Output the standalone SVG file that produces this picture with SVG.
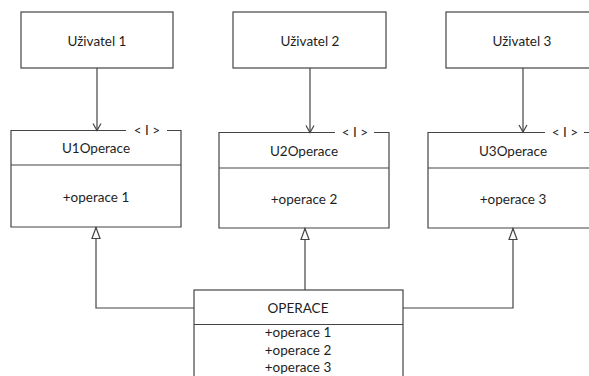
<svg xmlns="http://www.w3.org/2000/svg" width="589" height="376" viewBox="0 0 589 376">
<defs>
<style>
.box{fill:#fff;stroke:#444;stroke-width:1.2}
.ln{fill:none;stroke:#444;stroke-width:1.2}
text{font-family:Lato,"Liberation Sans",Arial,sans-serif;font-size:13.5px;fill:#1e1e1e;text-anchor:middle}
.conn{fill:none;stroke:#444;stroke-width:1.2}
</style>
<marker id="open" markerUnits="userSpaceOnUse" viewBox="-9 -6 11 12" refX="0" refY="0" markerWidth="11" markerHeight="12" orient="auto" overflow="visible">
<path d="M-7,-4 L0,0 L-7,4" fill="none" stroke="#444" stroke-width="1.2"/>
</marker>
<marker id="tri" markerUnits="userSpaceOnUse" viewBox="-12 -6 14 12" refX="0" refY="0" markerWidth="14" markerHeight="12" orient="auto" overflow="visible">
<path d="M-11,-4 L0,0 L-11,4 Z" fill="#fff" stroke="#444" stroke-width="1.2"/>
</marker>
</defs>
<rect width="589" height="376" fill="#fff"/>
<g id="connectors">
<path class="conn" d="M97,68 V130.5" marker-end="url(#open)"/>
<path class="conn" d="M310,68 V132.5" marker-end="url(#open)"/>
<path class="conn" d="M523,68 V132" marker-end="url(#open)"/>
<path class="conn" d="M194,308 H96 V227.5" marker-end="url(#tri)"/>
<path class="conn" d="M305,290 V228.5" marker-end="url(#tri)"/>
<path class="conn" d="M403,308 H513 V228.5" marker-end="url(#tri)"/>
</g>
<g id="uzivatel1">
<rect class="box" x="21" y="12" width="152" height="56"/>
<text x="97" y="46">Uživatel 1</text>
</g>
<g id="uzivatel2">
<rect class="box" x="233" y="12" width="153" height="56"/>
<text x="310" y="46">Uživatel 2</text>
</g>
<g id="uzivatel3">
<rect class="box" x="446" y="12" width="152" height="56"/>
<text x="522" y="46">Uživatel 3</text>
</g>
<g id="u1operace">
<path class="ln" d="M126,130.5 H11 V227 H181 V130.5 H167"/>
<line class="ln" x1="11" y1="165" x2="181" y2="165"/>
<text x="147" y="135">&lt; I &gt;</text>
<text x="96" y="153">U1Operace</text>
<text x="96" y="202">+operace 1</text>
</g>
<g id="u2operace">
<path class="ln" d="M335,132.5 H219 V228 H389 V132.5 H374"/>
<line class="ln" x1="219" y1="168" x2="389" y2="168"/>
<text x="355" y="137">&lt; I &gt;</text>
<text x="304" y="156">U2Operace</text>
<text x="304" y="204">+operace 2</text>
</g>
<g id="u3operace">
<path class="ln" d="M545,132.5 H428 V228 H598 V132.5 H584"/>
<line class="ln" x1="428" y1="168" x2="598" y2="168"/>
<text x="565" y="137">&lt; I &gt;</text>
<text x="513" y="156">U3Operace</text>
<text x="513" y="204">+operace 3</text>
</g>
<g id="operace">
<rect class="box" x="194" y="290" width="209" height="100"/>
<line class="ln" x1="194" y1="324.5" x2="403" y2="324.5"/>
<text x="298" y="313">OPERACE</text>
<text x="298" y="337">+operace 1</text>
<text x="298" y="355">+operace 2</text>
<text x="298" y="372">+operace 3</text>
</g>
</svg>
